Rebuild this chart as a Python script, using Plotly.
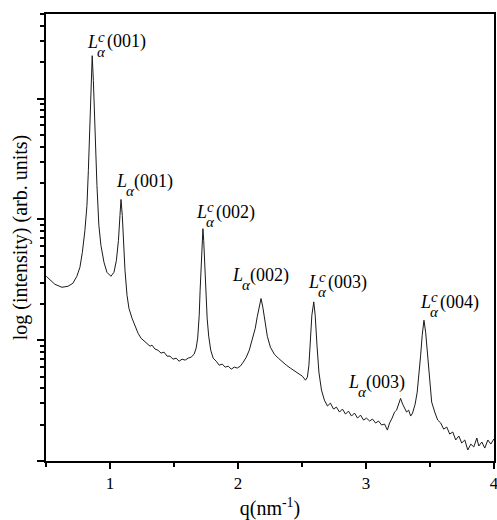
import numpy as np
import plotly.graph_objects as go

# Scattering vector q (nm^-1)
q_nm = [
    0.502, 0.530, 0.569, 0.624, 0.671, 0.710, 0.741, 0.765, 0.784, 0.804,
    0.820, 0.831, 0.843, 0.853, 0.861, 0.870, 0.882, 0.898, 0.913, 0.929,
    0.953, 0.976, 1.007, 1.031, 1.050, 1.066, 1.078, 1.086, 1.096, 1.105,
    1.117, 1.133, 1.148, 1.172, 1.195, 1.219, 1.242, 1.266, 1.289, 1.313,
    1.328, 1.352, 1.375, 1.399, 1.422, 1.446, 1.469, 1.492, 1.516, 1.540,
    1.563, 1.587, 1.610, 1.634, 1.657, 1.673, 1.685, 1.697, 1.704, 1.712,
    1.720, 1.726, 1.732, 1.740, 1.748, 1.759, 1.771, 1.787, 1.806, 1.830,
    1.853, 1.877, 1.900, 1.924, 1.947, 1.971, 1.994, 2.018, 2.041, 2.065,
    2.088, 2.112, 2.135, 2.151, 2.167, 2.180, 2.194, 2.210, 2.229, 2.253,
    2.284, 2.315, 2.347, 2.378, 2.409, 2.441, 2.472, 2.503, 2.527, 2.542,
    2.554, 2.566, 2.577, 2.592, 2.603, 2.617, 2.632, 2.652, 2.675, 2.699,
    2.722, 2.746, 2.769, 2.793, 2.816, 2.840, 2.863, 2.887, 2.910, 2.934,
    2.957, 2.981, 3.004, 3.028, 3.051, 3.075, 3.098, 3.122, 3.145, 3.167,
    3.184, 3.204, 3.223, 3.239, 3.255, 3.270, 3.286, 3.302, 3.317, 3.333,
    3.349, 3.364, 3.384, 3.400, 3.415, 3.427, 3.439, 3.453, 3.466, 3.478,
    3.494, 3.513, 3.537, 3.560, 3.584, 3.607, 3.631, 3.654, 3.678, 3.701,
    3.725, 3.748, 3.772, 3.795, 3.819, 3.842, 3.866, 3.881, 3.905, 3.928,
    3.952, 3.975, 3.999,
]

# log10 of the scattered intensity (arb. units)
log_intensity = [
    1.529, 1.504, 1.463, 1.438, 1.446, 1.471, 1.529, 1.603, 1.727, 1.909,
    2.116, 2.405, 2.818, 3.149, 3.355, 3.149, 2.736, 2.281, 1.950, 1.785,
    1.645, 1.562, 1.529, 1.562, 1.661, 1.826, 2.033, 2.165, 2.033, 1.826,
    1.579, 1.372, 1.264, 1.182, 1.116, 1.058, 1.017, 0.992, 0.975, 0.950,
    0.959, 0.926, 0.917, 0.893, 0.901, 0.868, 0.868, 0.843, 0.851, 0.826,
    0.843, 0.835, 0.851, 0.860, 0.884, 0.934, 1.017, 1.207, 1.413, 1.661,
    1.843, 1.923, 1.826, 1.645, 1.413, 1.182, 1.033, 0.917, 0.851, 0.826,
    0.793, 0.802, 0.777, 0.785, 0.760, 0.777, 0.769, 0.785, 0.818, 0.860,
    0.917, 1.000, 1.099, 1.198, 1.289, 1.345, 1.273, 1.149, 1.033, 0.942,
    0.884, 0.851, 0.818, 0.793, 0.769, 0.744, 0.719, 0.702, 0.669, 0.694,
    0.793, 1.000, 1.207, 1.317, 1.207, 0.959, 0.736, 0.587, 0.504, 0.455,
    0.479, 0.430, 0.446, 0.405, 0.430, 0.388, 0.413, 0.372, 0.397, 0.355,
    0.380, 0.339, 0.355, 0.331, 0.347, 0.314, 0.331, 0.298, 0.306, 0.256,
    0.314, 0.355, 0.405, 0.421, 0.479, 0.518, 0.471, 0.430, 0.405, 0.421,
    0.372, 0.397, 0.471, 0.570, 0.711, 0.876, 1.041, 1.165, 1.066, 0.901,
    0.669, 0.488, 0.405, 0.339, 0.314, 0.264, 0.281, 0.223, 0.240, 0.174,
    0.207, 0.149, 0.174, 0.091, 0.140, 0.116, 0.190, 0.124, 0.157, 0.107,
    0.174, 0.140, 0.182,
]

# Bragg reflections: phase superscript ("c" phase or plain) and Miller index
peak_phase = ["c", "", "c", "", "c", "", "c"]
peak_index = ["(001)", "(001)", "(002)", "(002)", "(003)", "(003)", "(004)"]

intensity = 10 ** np.array(log_intensity)

fig = go.Figure()
fig.add_trace(go.Scatter(
    x=q_nm, y=intensity, mode="lines",
    line=dict(color="#1a1a1a", width=1),
    showlegend=False, hoverinfo="skip",
))

# label anchors: left edge of "L" and its baseline (q, log10 I)
label_anchor = [
    (0.812, 3.421), (1.039, 2.264), (1.665, 2.008), (1.947, 1.488),
    (2.540, 1.430), (2.853, 0.603), (3.411, 1.264),
]

serif = "Times New Roman, Liberation Serif, serif"
annotations = []
for (ax, ay), phase, idx in zip(label_anchor, peak_phase, peak_index):
    common = dict(x=ax, y=ay, xref="x", yref="y", showarrow=False,
                  xanchor="left", yanchor="middle")
    annotations.append(dict(common, text="<i>L</i>", xshift=-1, yshift=6,
                            font=dict(family=serif, size=18, color="black")))
    annotations.append(dict(common, text="<i>α</i>", xshift=9, yshift=-4,
                            font=dict(family=serif, size=15, color="black")))
    if phase:
        annotations.append(dict(common, text="<i>" + phase + "</i>",
                                xshift=10, yshift=11,
                                font=dict(family=serif, size=15, color="black")))
    annotations.append(dict(common, text=idx,
                            xshift=19 if phase else 17, yshift=6,
                            font=dict(family=serif, size=18, color="black")))

fig.update_layout(
    width=497, height=520,
    margin=dict(l=46, r=3, t=14, b=59, autoexpand=False),
    paper_bgcolor="white", plot_bgcolor="white",
    font=dict(family=serif, color="black"),
    annotations=annotations,
    xaxis=dict(
        range=[0.5, 4], tick0=0, dtick=1, automargin=False,
        ticklabeloverflow="allow",
        ticks="outside", ticklen=6, tickwidth=1.5, tickcolor="black",
        minor=dict(dtick=0.5, ticks="outside", ticklen=4, tickwidth=1.5,
                   tickcolor="black", showgrid=False),
        showline=True, linecolor="black", linewidth=2, mirror=True,
        showgrid=False, zeroline=False,
        tickfont=dict(family=serif, size=17, color="black"),
        title=dict(text="q(nm<sup>-1</sup>)", standoff=12,
                   font=dict(family=serif, size=20, color="black")),
    ),
    yaxis=dict(
        type="log", range=[0, 3.7], dtick=1, automargin=False,
        ticks="outside", ticklen=7, tickwidth=1.5, tickcolor="black",
        minor=dict(dtick="D1", ticks="outside", ticklen=4, tickwidth=1.5,
                   tickcolor="black", showgrid=False),
        showticklabels=False,
        showline=True, linecolor="black", linewidth=2, mirror=True,
        showgrid=False, zeroline=False,
        title=dict(text="log (intensity) (arb. units)", standoff=4,
                   font=dict(family=serif, size=20, color="black")),
    ),
)

fig.write_html("out.html")
